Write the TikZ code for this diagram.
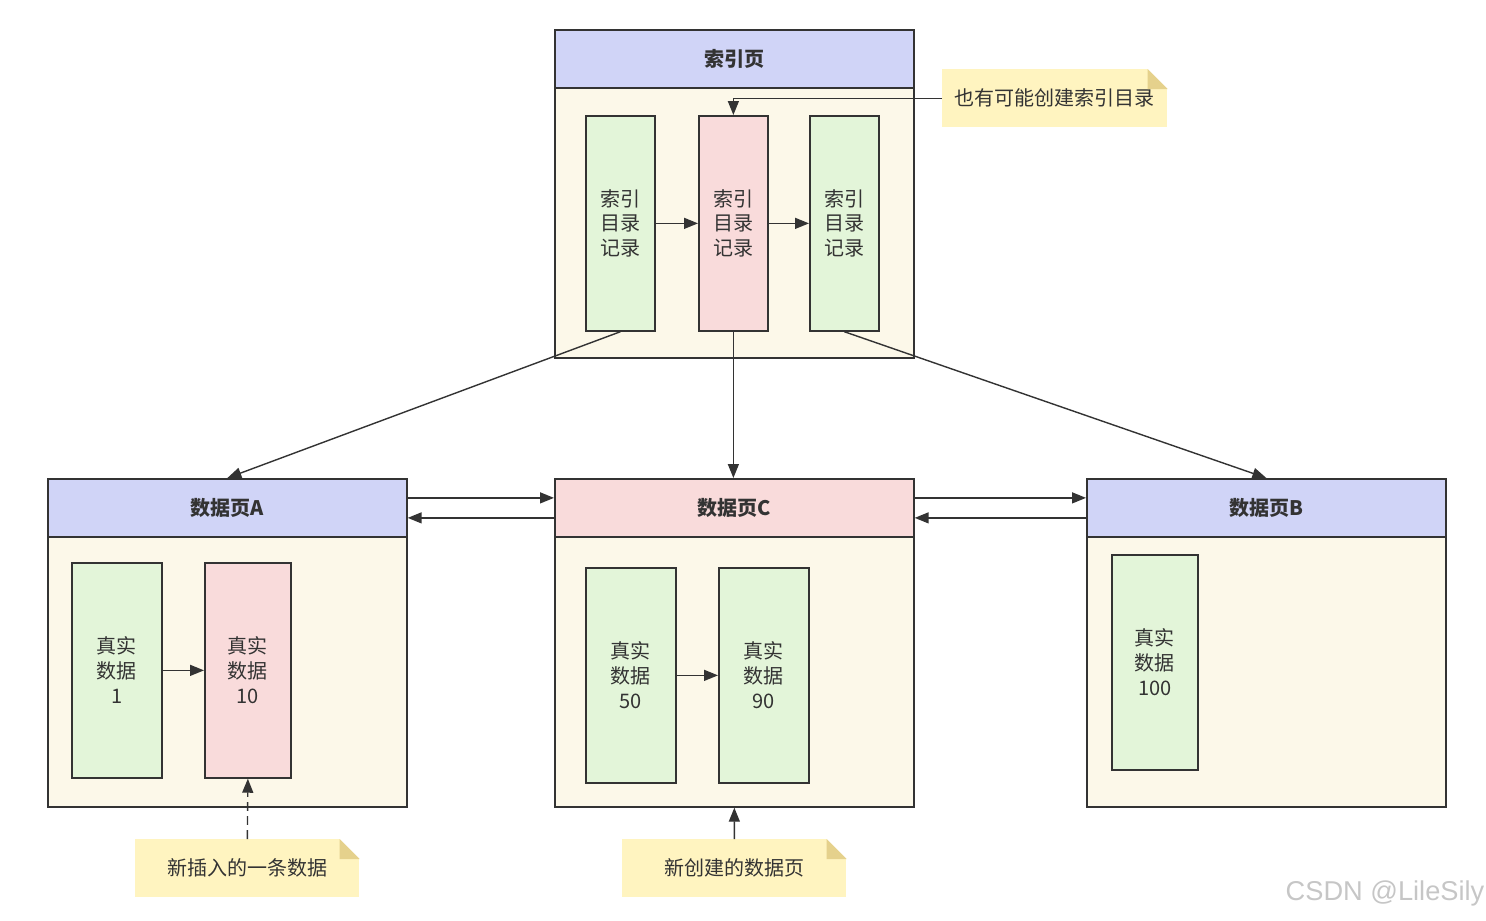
\documentclass[tikz,border=0pt]{standalone}
\usepackage{fontspec}
\setmainfont{Noto Sans CJK SC}
\setsansfont{Liberation Sans}
\usetikzlibrary{arrows.meta,positioning}
\definecolor{linegray}{RGB}{51,51,51}
\definecolor{hdrblue}{RGB}{208,212,247}
\definecolor{bodycream}{RGB}{252,248,233}
\definecolor{recgreen}{RGB}{227,245,217}
\definecolor{recpink}{RGB}{249,219,219}
\definecolor{noteyellow}{RGB}{255,244,192}
\definecolor{notedark}{RGB}{229,209,140}
\tikzset{
  page header/.style={
    rectangle, draw=linegray, line width=1pt, fill=hdrblue,
    text=linegray, minimum width=7.18cm, minimum height=1.16cm,
    inner sep=0pt, font=\fontsize{11.4}{14}\selectfont\bfseries
  },
  page body/.style={
    rectangle, draw=linegray, line width=1pt, fill=bodycream,
    minimum width=7.18cm, minimum height=5.4cm, inner sep=0pt
  },
  record box/.style={
    rectangle, draw=linegray, line width=1pt, fill=recgreen,
    text=linegray, align=center, minimum height=4.3cm,
    inner sep=0pt, font=\fontsize{11.4}{14.2}\selectfont
  },
  note box/.style={
    rectangle, fill=noteyellow, text=linegray, align=center,
    minimum width=4.48cm, minimum height=1.16cm,
    inner sep=0pt, font=\fontsize{11.4}{14}\selectfont
  },
  link arrow/.style={-{Triangle[length=2.8mm,width=2.2mm]}, line width=0.8pt, linegray}
}
% folded corner of a note
\newcommand\notefold[1]{%
  \fill[white] ([xshift=-0.4cm]#1.north east) -- (#1.north east) -- ([yshift=-0.4cm]#1.north east) -- cycle;
  \fill[notedark] ([xshift=-0.4cm]#1.north east) -- ([xshift=-0.4cm,yshift=-0.4cm]#1.north east) -- ([yshift=-0.4cm]#1.north east) -- cycle;}

\begin{document}
\begin{tikzpicture}[x=0.02cm, y=-0.02cm]
    \useasboundingbox (0,0) rectangle (1486,920);

    % index page
    \node[page header, anchor=north west] (idxhdr) at (554,29) {索引页};
    \node[page body, below=-1pt of idxhdr] (idxbody) {};
    \node[record box, minimum width=1.38cm, anchor=north west] (idxrec1) at (585,115) {索引\\目录\\记录};
    \node[record box, minimum width=1.38cm, fill=recpink, anchor=north west] (idxrec2) at (698,115) {索引\\目录\\记录};
    \node[record box, minimum width=1.38cm, anchor=north west] (idxrec3) at (809,115) {索引\\目录\\记录};
    \draw[link arrow] (idxrec1) -- (idxrec2);
    \draw[link arrow] (idxrec2) -- (idxrec3);

    % data pages
    \node[page header, anchor=north west] (hdrA) at (47,478) {数据页A};
    \node[page body, below=-1pt of hdrA] (bodyA) {};
    \node[page header, fill=recpink, anchor=north west] (hdrC) at (554,478) {数据页C};
    \node[page body, below=-1pt of hdrC] (bodyC) {};
    \node[page header, anchor=north west] (hdrB) at (1086,478) {数据页B};
    \node[page body, below=-1pt of hdrB] (bodyB) {};

    \node[record box, minimum width=1.8cm, anchor=north west] (recA1) at (71,562) {真实\\数据\\1};
    \node[record box, minimum width=1.72cm, fill=recpink, anchor=north west] (recA10) at (204,562) {真实\\数据\\10};
    \node[record box, minimum width=1.8cm, anchor=north west] (recC50) at (585,567) {真实\\数据\\50};
    \node[record box, minimum width=1.8cm, anchor=north west] (recC90) at (718,567) {真实\\数据\\90};
    \node[record box, minimum width=1.72cm, anchor=north west] (recB100) at (1111,554) {真实\\数据\\100};
    \draw[link arrow] (recA1) -- (recA10);
    \draw[link arrow] (recC50) -- (recC90);

    % index records point to pages
    \draw[link arrow] (idxrec1.south) -- (hdrA.north);
    \draw[link arrow] (idxrec2.south) -- (idxrec2.south |- hdrC.north);
    \draw[link arrow] (idxrec3.south) -- (hdrB.north);

    % links between pages
    \draw[link arrow] ([yshift=0.2cm]hdrA.east) -- ([yshift=0.2cm]hdrC.west);
    \draw[link arrow] ([yshift=-0.2cm]hdrC.west) -- ([yshift=-0.2cm]hdrA.east);
    \draw[link arrow] ([yshift=0.2cm]hdrC.east) -- ([yshift=0.2cm]hdrB.west);
    \draw[link arrow] ([yshift=-0.2cm]hdrB.west) -- ([yshift=-0.2cm]hdrC.east);

    % notes
    \node[note box, minimum width=4.5cm, anchor=north west] (noteidx) at (942,69) {也有可能创建索引目录};
    \notefold{noteidx}
    \node[note box, anchor=north west] (noteA) at (135,839) {新插入的一条数据};
    \notefold{noteA}
    \node[note box, anchor=north west] (noteC) at (622,839) {新创建的数据页};
    \notefold{noteC}
    \draw[link arrow] (noteidx.west) -| (idxrec2.north);
    \draw[link arrow, dash pattern=on 5pt off 3pt] (noteA.north) -- (recA10.south);
    \draw[link arrow] (noteC.north) -- (bodyC.south);

    \node[text=gray!45, font=\sffamily\fontsize{15.5}{18}\selectfont] (mark) at (1385,893) {CSDN @LileSily};
\end{tikzpicture}
\end{document}
